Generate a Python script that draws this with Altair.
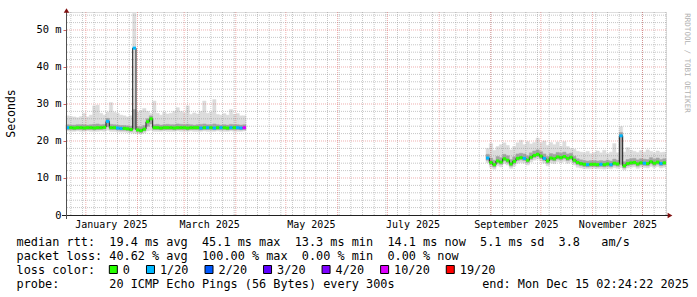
import altair as alt
import pandas as pd

FONT = "DejaVu Sans Mono"
NB = "\u00a0"

# ---- time frame of the graph (360 days ending at "end") ----
T_START = alt.DateTime(year=2024, month=12, date=20, hours=2, minutes=24, seconds=22)
T_END = alt.DateTime(year=2025, month=12, date=15, hours=2, minutes=24, seconds=22)

# ---- data: first segment (2-day steps) ----
seg1_start = "2024-12-20 02:24:22"
med1 = [23.6, 23.6, 23.5, 23.6, 23.6, 23.5, 23.6, 23.6, 23.5, 23.6,
        23.6, 23.7, 25.3, 23.6, 23.6, 23.5, 23.4, 23.4, 23.3, 23.1,
        45.1, 23.0, 22.8, 23.2, 25.2, 26.0, 23.6, 23.6, 23.5, 23.6,
        23.6, 23.6, 23.5, 23.6, 23.6, 23.6, 23.5, 23.6, 23.6, 23.6,
        23.5, 23.6, 23.6, 23.6, 23.5, 23.6, 23.6, 23.6, 23.5, 23.6,
        23.6, 23.6, 23.5, 23.6]
lo1 = [22.7, 22.6, 22.6, 22.7, 22.6, 22.6, 22.7, 22.6, 22.6, 22.6,
       22.7, 22.6, 22.9, 22.6, 22.6, 22.5, 22.4, 22.4, 22.3, 22.2,
       22.1, 22.0, 21.9, 22.2, 22.7, 22.9, 22.6, 22.6, 22.6, 22.7,
       22.6, 22.6, 22.6, 22.7, 22.6, 22.6, 22.6, 22.7, 22.6, 22.6,
       22.6, 22.7, 22.6, 22.6, 22.6, 22.7, 22.6, 22.6, 22.6, 22.7,
       22.6, 22.6, 22.6, 22.7]
q1_1 = [23.1, 23.1, 23.0, 23.1, 23.1, 23.0, 23.1, 23.1, 23.0, 23.1,
        23.1, 23.2, 23.9, 23.1, 23.1, 23.0, 22.9, 22.9, 22.8, 22.6,
        23.2, 22.5, 22.3, 22.7, 24.0, 24.6, 23.1, 23.1, 23.0, 23.1,
        23.1, 23.1, 23.0, 23.1, 23.1, 23.1, 23.0, 23.1, 23.1, 23.1,
        23.0, 23.1, 23.1, 23.1, 23.0, 23.1, 23.1, 23.1, 23.0, 23.1,
        23.1, 23.1, 23.0, 23.1]
q3_1 = [24.4, 24.3, 24.3, 24.4, 24.4, 24.4, 24.3, 24.4, 24.5, 24.6,
        24.4, 24.5, 26.1, 24.5, 24.4, 24.3, 24.2, 24.2, 24.1, 24.0,
        28.5, 23.9, 23.8, 24.2, 26.0, 26.8, 24.4, 24.5, 24.3, 24.4,
        24.5, 24.4, 24.4, 24.6, 24.5, 24.4, 24.5, 24.4, 24.3, 24.4,
        24.5, 24.6, 24.4, 24.4, 24.6, 24.4, 24.3, 24.4, 24.3, 24.5,
        24.4, 24.4, 24.3, 24.4]
hi1 = [26.8, 26.6, 26.5, 26.3, 26.6, 27.5, 26.5, 27.0, 29.5, 29.7,
       27.5, 27.0, 27.8, 30.4, 27.8, 27.5, 27.0, 26.8, 26.5, 26.8,
       54.5, 27.8, 28.2, 28.8, 28.0, 27.5, 30.8, 27.5, 27.0, 27.8,
       27.3, 27.5, 28.0, 29.0, 28.0, 27.6, 29.5, 27.2, 27.6, 27.3,
       28.0, 30.8, 27.5, 27.8, 31.2, 27.2, 27.0, 27.4, 27.0, 28.5,
       27.2, 27.4, 26.8, 26.8]
Z, C, M = "0", "1/20", "10/20"
loss1 = [C, Z, Z, Z, Z, Z, Z, Z, Z, Z,
         Z, Z, C, Z, Z, C, C, Z, Z, Z,
         C, Z, Z, Z, Z, Z, Z, Z, Z, Z,
         Z, Z, Z, Z, Z, Z, Z, Z, Z, Z,
         C, Z, C, Z, C, Z, C, Z, Z, C,
         Z, C, C, M]

# ---- data: second segment (2-day steps) ----
seg2_start = "2025-08-29 02:24:22"
med2 = [15.4, 14.2, 13.6, 14.6, 14.3, 15.2, 14.8, 13.8, 14.5, 15.3,
        15.5, 15.3, 14.8, 15.6, 16.1, 16.4, 15.9, 15.3, 14.6, 15.4,
        15.2, 15.7, 15.5, 15.8, 15.3, 15.6, 14.8, 14.2, 13.9, 13.7,
        13.6, 13.7, 13.7, 13.6, 13.7, 13.6, 13.8, 13.6, 14.0, 13.8,
        21.4, 13.3, 13.9, 14.1, 14.2, 13.8, 14.1, 14.0, 13.9, 14.4,
        14.0, 14.3, 13.9, 14.1]
lo2 = [14.2, 12.9, 12.4, 13.3, 13.0, 13.9, 13.5, 12.6, 13.2, 14.0,
       14.2, 14.0, 13.5, 14.3, 14.8, 15.1, 14.6, 14.0, 13.3, 14.1,
       13.9, 14.4, 14.2, 14.5, 14.0, 14.3, 13.5, 12.9, 12.7, 12.5,
       12.5, 12.5, 12.6, 12.5, 12.5, 12.4, 12.6, 12.5, 12.8, 12.6,
       12.8, 12.2, 12.7, 12.9, 13.0, 12.6, 12.9, 12.8, 12.7, 13.1,
       12.8, 13.1, 12.7, 12.9]
q1_2 = [14.8, 13.6, 13.0, 14.0, 13.7, 14.6, 14.2, 13.2, 13.9, 14.7,
        14.9, 14.7, 14.2, 15.0, 15.5, 15.8, 15.3, 14.7, 14.0, 14.8,
        14.6, 15.1, 14.9, 15.2, 14.7, 15.0, 14.2, 13.6, 13.3, 13.1,
        13.0, 13.1, 13.1, 13.0, 13.1, 13.0, 13.2, 13.0, 13.4, 13.2,
        13.6, 12.7, 13.3, 13.5, 13.6, 13.2, 13.5, 13.4, 13.3, 13.8,
        13.4, 13.7, 13.3, 13.5]
q3_2 = [16.4, 15.4, 14.8, 15.8, 15.5, 16.4, 16.0, 15.0, 15.7, 16.5,
        16.7, 16.5, 16.0, 16.8, 17.3, 17.6, 17.1, 16.5, 15.8, 16.6,
        16.4, 16.9, 16.7, 17.0, 16.5, 16.7, 15.9, 15.2, 14.9, 14.7,
        14.6, 14.7, 14.7, 14.6, 14.7, 14.6, 14.8, 14.6, 15.1, 14.8,
        22.3, 14.4, 15.0, 15.2, 15.3, 14.9, 15.2, 15.1, 15.0, 15.5,
        15.1, 15.4, 15.0, 15.2]
hi2 = [18.0, 19.3, 17.5, 18.5, 19.0, 19.5, 18.8, 17.6, 18.5, 19.5,
       20.2, 19.0, 19.8, 19.2, 19.6, 20.8, 19.5, 20.0, 18.8, 19.6,
       19.0, 19.7, 18.6, 19.8, 18.5, 18.0, 17.8, 17.2, 17.0, 16.8,
       17.2, 16.6, 16.9, 17.3, 16.8, 17.5, 16.6, 17.0, 19.3, 16.8,
       23.9, 17.0, 18.2, 17.5, 17.2, 16.9, 17.4, 17.0, 17.6, 17.2,
       16.8, 17.3, 16.9, 17.0]
loss2 = [C, Z, Z, Z, Z, Z, Z, Z, Z, Z,
         Z, C, Z, Z, Z, Z, Z, C, Z, Z,
         Z, Z, Z, Z, Z, Z, Z, Z, Z, Z,
         C, Z, Z, Z, C, Z, Z, C, Z, Z,
         C, Z, Z, Z, Z, Z, Z, C, Z, Z,
         Z, Z, C, Z]

loss_labels = ["0", "1/20", "2/20", "3/20", "4/20", "10/20", "19/20"]
loss_colors = ["#26ff00", "#00b8ff", "#0059ff", "#5e00ff", "#7e00ff", "#dd00ff", "#ff0000"]

y_ticks = [0, 10, 20, 30, 40, 50]
x_label_dates = [alt.DateTime(year=2025, month=m, date=16) for m in [1, 3, 5, 7, 9, 11]]

# ---- text ----
line_rtt = "median rtt:  19.4 ms avg  45.1 ms max  13.3 ms min  14.1 ms now  5.1 ms sd  3.8   am/s"
line_loss = "packet loss: 40.62 % avg  100.00 % max  0.00 % min  0.00 % now"
line_legend = "loss color:"
line_probe = "probe:       20 ICMP Echo Pings (56 Bytes) every 300s"
line_end = "end: Mon Dec 15 02:24:22 2025"
watermark = "RRDTOOL / TOBI OETIKER"

TXT = 11.85
CHAR_W = TXT * 0.602   # advance of DejaVu Sans Mono


def seg_frame(start, med, lo, q1, q3, hi, loss, name):
    t = pd.date_range(start, periods=len(med), freq="2D")
    return pd.DataFrame({"t": t, "t2": t + pd.Timedelta(days=2), "med": med,
                         "lo": lo, "q1": q1, "q3": q3, "hi": hi,
                         "loss": loss, "seg": name})


df = pd.concat([seg_frame(seg1_start, med1, lo1, q1_1, q3_1, hi1, loss1, "a"),
                seg_frame(seg2_start, med2, lo2, q1_2, q3_2, hi2, loss2, "b")],
               ignore_index=True)

# median step line: each segment plus the end of its last step
line_rows = []
for name, g in df.groupby("seg"):
    line_rows.append(g[["t", "med", "seg"]])
    last = g.iloc[[-1]]
    line_rows.append(pd.DataFrame({"t": last["t2"].values, "med": last["med"].values, "seg": [name]}))
line_df = pd.concat(line_rows, ignore_index=True)

months = pd.DataFrame({"d": pd.date_range("2025-01-01", "2025-12-01", freq="MS")})
weeks = pd.DataFrame({"d": pd.date_range("2024-12-23", "2025-12-15", freq="W-MON")})
minor_y = pd.DataFrame({"v": [v for v in range(2, 55, 2) if v % 10 != 0]})
major_y = pd.DataFrame({"v": [10, 20, 30, 40, 50]})

x_scale = alt.Scale(domain=[T_START, T_END])
y_scale = alt.Scale(domain=[0, 54.86], nice=False, zero=False)

x_axis = alt.Axis(values=x_label_dates, format="%B %Y", title=None, grid=False,
                  domain=False, ticks=False, labelFont=FONT, labelFontSize=10,
                  labelColor="black", labelPadding=4, labelAngle=0)
y_axis = alt.Axis(values=y_ticks,
                  labelExpr=f"datum.value == 0 ? '0{NB}{NB}' : datum.value + '{NB}m'",
                  title="Seconds", grid=False, domain=False, tickSize=3,
                  tickColor="#d06060", labelFont=FONT, labelFontSize=10.4,
                  labelColor="black", labelPadding=2, titleFont=FONT,
                  titleFontSize=11.5, titleFontWeight="normal", titleColor="black",
                  titleX=-55, titleY=101, titleAngle=270, titleBaseline="middle",
                  titleAlign="center")


def X(field):
    return alt.X(field, scale=x_scale, axis=x_axis)


def Y(field):
    return alt.Y(field, scale=y_scale, axis=y_axis)


base = alt.Chart(df)

smoke_outer = base.mark_rect(color="#dcdcdc", stroke="#dcdcdc", strokeWidth=0.5).encode(
    x=X("t:T"), x2="t2:T", y=Y("lo:Q"), y2="hi:Q")
smoke_inner = base.mark_rect(color="#a4a4a4", stroke="#a4a4a4", strokeWidth=0.5).encode(
    x=X("t:T"), x2="t2:T", y=Y("q1:Q"), y2="q3:Q")

GRID = "rgba(143,143,143,0.5)"
MGRID = "rgba(222,80,80,0.45)"
grid_week = alt.Chart(weeks).mark_rule(stroke=GRID, strokeDash=[1, 1], strokeWidth=1).encode(x=X("d:T"))
grid_minor_y = alt.Chart(minor_y).mark_rule(stroke=GRID, strokeDash=[1, 1], strokeWidth=1).encode(y=Y("v:Q"))
grid_month = alt.Chart(months).mark_rule(stroke=MGRID, strokeDash=[1, 1], strokeWidth=1).encode(x=X("d:T"))
grid_major_y = alt.Chart(major_y).mark_rule(stroke=MGRID, strokeDash=[1, 1], strokeWidth=1).encode(y=Y("v:Q"))

median_line = alt.Chart(line_df).mark_line(interpolate="step-after", color="#202020", strokeWidth=1).encode(
    x=X("t:T"), y=Y("med:Q"), detail="seg:N")

median_col = base.mark_rule(strokeWidth=3, strokeCap="butt").encode(
    x=X("t:T"), x2="t2:T", y=Y("med:Q"),
    stroke=alt.Stroke("loss:N", scale=alt.Scale(domain=loss_labels, range=loss_colors), legend=None))

one = alt.Data(values=[{"k": 1}])
axis_x_line = alt.Chart(one).mark_rule(color="#202020", strokeWidth=1).encode(
    x=alt.value(-4), x2=alt.value(604), y=alt.value(203.5))
axis_y_line = alt.Chart(one).mark_rule(color="#505050", strokeWidth=1).encode(
    x=alt.value(0.5), y=alt.value(-2), y2=alt.value(207))
arrow_up = alt.Chart(one).mark_point(shape="triangle-up", filled=True, color="#801010", size=30, opacity=1).encode(
    x=alt.value(0.5), y=alt.value(-1.5))
arrow_right = alt.Chart(one).mark_point(shape="triangle-right", filled=True, color="#801010", size=30, opacity=1).encode(
    x=alt.value(604), y=alt.value(203.5))


def text_line(txt, x, y, align="left", size=TXT, color="black", angle=0):
    kw = dict(text=txt.replace(" ", NB), align=align, baseline="middle", font=FONT,
              fontSize=size, color=color)
    if angle:
        kw["angle"] = angle
    return alt.Chart(one).mark_text(**kw).encode(x=alt.value(x), y=alt.value(y))


LEFT = -49.4
texts = [
    text_line(line_rtt, LEFT, 229.5),
    text_line(line_loss, LEFT, 243.5),
    text_line(line_legend, LEFT, 257.5),
    text_line(line_probe, LEFT, 271.5),
    text_line(line_end, 623, 271.5, align="right"),
    text_line(watermark, 621, 51, align="center", size=7.5, color="#b0b0b0", angle=90),
]

# loss colour key: boxes and labels laid out along the "loss color:" row
legend_marks = []
box_left = LEFT + 13 * CHAR_W
for lab, col in zip(loss_labels, loss_colors):
    legend_marks.append(
        alt.Chart(one).mark_square(size=64, fill=col, stroke="black", strokeWidth=1, opacity=1).encode(
            x=alt.value(box_left + 4), y=alt.value(257.5)))
    label_x = box_left + 13.5
    legend_marks.append(text_line(lab, label_x, 257.5))
    box_left = label_x + len(lab) * CHAR_W + 16.5

chart = alt.layer(
    smoke_outer, smoke_inner,
    grid_week, grid_minor_y, grid_month, grid_major_y,
    median_line, median_col,
    axis_x_line, axis_y_line, arrow_up, arrow_right,
    *texts, *legend_marks,
).properties(
    width=600, height=203,
    padding={"left": 66, "top": 12, "right": 31, "bottom": 82},
    autosize=alt.AutoSizeParams(type="none"),
).configure_view(stroke=None).configure(background="white")

chart.save("out.html", embed_options={"renderer": "svg", "actions": False})
